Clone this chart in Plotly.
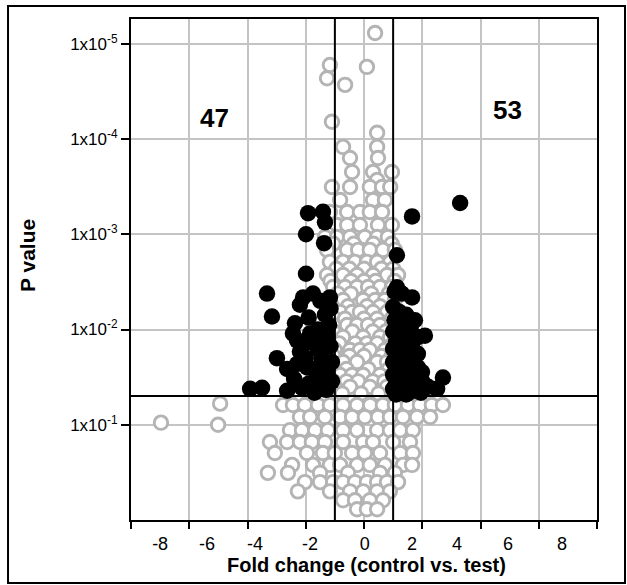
import plotly.graph_objects as go

# ---------------- data ----------------
# significant, down (47 genes)
down_fc = [-1.92, -1.41, -1.34, -1.99, -1.37, -1.99, -3.33, -3.16, -2.09, -1.75,
           -1.17, -2.37, -2.44, -2.02, -2.99, -2.64, -1.95, -3.91, -3.50, -2.64,
           -2.13, -1.68, -1.58, -1.34, -2.20, -1.50, -1.15, -1.90, -1.20, -2.30,
           -1.85, -1.25, -2.20, -1.60, -1.15, -2.00, -1.45, -1.10, -2.30, -1.75,
           -1.30, -2.40, -1.60, -1.10, -1.90, -1.30, -1.70]
down_p = [6.0e-4, 5.8e-4, 7.5e-4, 1.0e-3, 1.24e-3, 2.6e-3, 4.2e-3, 7.3e-3, 4.6e-3, 4.2e-3,
          4.6e-3, 8.6e-3, 1.1e-2, 1.4e-2, 2.0e-2, 2.6e-2, 2.5e-2, 4.2e-2, 4.1e-2, 4.4e-2,
          4.1e-2, 1.3e-2, 1.0e-2, 7.0e-3, 5.5e-3, 5.0e-3, 6.0e-3, 7.5e-3, 9.0e-3, 1.3e-2,
          1.1e-2, 1.2e-2, 1.7e-2, 1.6e-2, 1.5e-2, 2.0e-2, 2.0e-2, 2.2e-2, 2.3e-2, 2.6e-2,
          2.8e-2, 3.3e-2, 3.3e-2, 3.5e-2, 3.7e-2, 4.3e-2, 4.6e-2]

# significant, up (53 genes)
up_fc = [3.30, 1.65, 1.13, 1.13, 1.65, 1.00, 1.75, 2.09, 1.85, 2.71,
         2.51, 1.99, 1.41, 1.85, 1.30, 1.05, 1.20, 1.45, 1.05, 1.30,
         1.60, 1.00, 1.20, 1.50, 1.10, 1.35, 1.65, 1.00, 1.25, 1.55,
         1.10, 1.70, 1.00, 1.25, 1.55, 1.85, 1.10, 1.40, 1.75, 1.00,
         1.25, 1.55, 2.00, 1.10, 1.40, 1.75, 2.20, 1.00, 1.25, 1.60,
         1.95, 1.10, 1.45]
up_p = [4.7e-4, 6.5e-4, 1.66e-3, 3.6e-3, 4.6e-3, 5.8e-3, 8.0e-3, 1.16e-2, 1.2e-2, 3.2e-2,
        4.2e-2, 2.8e-2, 2.1e-2, 1.8e-2, 4.2e-3, 4.0e-3, 6.5e-3, 7.0e-3, 8.0e-3, 9.0e-3,
        9.5e-3, 1.05e-2, 1.1e-2, 1.2e-2, 1.35e-2, 1.45e-2, 1.5e-2, 1.6e-2, 1.7e-2, 1.75e-2,
        1.9e-2, 2.1e-2, 2.2e-2, 2.3e-2, 2.4e-2, 2.5e-2, 2.6e-2, 2.7e-2, 2.9e-2, 3.0e-2,
        3.2e-2, 3.3e-2, 3.5e-2, 3.6e-2, 3.8e-2, 3.9e-2, 4.0e-2, 4.2e-2, 4.4e-2, 4.5e-2,
        4.6e-2, 4.8e-2, 4.8e-2]

# not significant: p value of each row and the fold changes on that row
ns_rows_p = [7.7e-6, 1.67e-5, 1.75e-5, 2.3e-5, 2.7e-5, 6.6e-5, 8.6e-5,
             1.21e-4, 1.58e-4, 2.22e-4, 2.69e-4, 3.19e-4, 4.37e-4, 5.83e-4, 8.0e-4,
             1.07e-3, 1.26e-3, 1.46e-3, 1.95e-3, 2.3e-3, 2.68e-3, 3.1e-3, 3.58e-3,
             4.2e-3, 4.9e-3, 5.7e-3, 6.55e-3, 7.7e-3, 8.97e-3, 1.05e-2, 1.2e-2,
             1.4e-2, 1.64e-2, 1.9e-2, 2.19e-2, 2.6e-2, 3.0e-2, 3.5e-2, 4.0e-2, 4.7e-2,
             6.0e-2, 6.2e-2, 8.3e-2, 9.5e-2, 0.10, 0.114, 0.152, 0.198, 0.264, 0.32,
             0.40, 0.50, 0.62, 0.77]
ns_rows_fc = [
    [0.38], [-1.17], [0.10], [-1.27], [-0.65], [-1.10], [0.45],
    [-0.72, 0.45],
    [-0.48, 0.48],
    [-0.41, 0.31, 0.96],
    [0.45],
    [-1.10, -0.48, 0.20, 0.62, 0.90],
    [-0.82, 0.31, 0.72],
    [-1.17, -0.58, -0.14, 0.20, 0.62],
    [-0.93, -0.58, -0.14, 0.48, 0.96],
    [-1.34, -0.93, -0.48, 0.03, 0.45, 0.82],
    [-1.05, -0.35, 0.32, 0.95],
    [-1.27, -0.58, -0.20, 0.20, 0.65, 1.06],
    [-1.17, -0.72, -0.31, 0.10, 0.45, 0.90],
    [-0.95, -0.50, 0.00, 0.60, 1.00],
    [-1.27, -0.72, -0.24, 0.31, 0.79, 1.17],
    [-1.15, -0.45, 0.00, 0.40, 1.05],
    [-1.06, -0.65, -0.24, 0.14, 0.55, 0.96],
    [-0.90, -0.45, 0.25, 0.85],
    [-1.24, -0.72, -0.03, 0.38, 0.72, 1.06],
    [-1.10, -0.55, 0.10, 0.55, 1.00],
    [-0.82, -0.41, -0.14, 0.31, 0.79],
    [-1.00, -0.65, 0.00, 0.45, 0.95],
    [-1.06, -0.58, -0.24, 0.14, 0.55, 0.96],
    [-1.05, -0.40, 0.30, 0.75],
    [-0.72, -0.03, 0.55, 0.90],
    [-0.85, -0.30, 0.10, 0.45, 1.00],
    [-1.00, -0.48, -0.14, 0.20, 0.72],
    [-1.05, -0.50, 0.00, 0.60, 0.95],
    [-0.72, -0.24, 0.45, 0.79],
    [-1.10, -0.60, 0.15, 0.85],
    [-0.82, -0.41, -0.03, 0.55, 0.96],
    [-1.05, -0.60, -0.20, 0.30, 0.70],
    [-1.00, -0.48, 0.20, 0.79],
    [-0.75, -0.10, 0.50, 1.00],
    [-4.94],
    [-2.78, -2.44, -2.03, -1.58, -1.17, -0.72, -0.24, 0.21, 0.65, 1.06, 1.51, 1.92, 2.33, 2.71],
    [-2.20, -1.85, -1.34, -0.82, -0.41, 0.03, 0.48, 0.89, 1.34, 1.82, 2.27],
    [-6.97],
    [-5.01],
    [-2.54, -2.13, -1.68, -1.24, -0.72, -0.24, 0.45, 0.89, 1.24, 1.68],
    [-3.23, -2.64, -2.20, -1.79, -1.34, -0.72, -0.03, 0.31, 1.00, 1.58],
    [-3.06, -1.96, -1.41, -1.00, -0.41, 0.03, 0.55, 1.24, 1.68],
    [-2.47, -1.75, -1.17, -0.82, -0.24, 0.20, 0.72, 1.34, 1.65],
    [-3.30, -2.61, -1.51, -0.55, 0.55, 1.06],
    [-2.03, -1.51, -1.06, -0.72, -0.31, 0.10, 0.45, 0.79, 1.17],
    [-2.27, -1.17, -0.48, -0.03, 0.45, 0.89],
    [-0.72, -0.31, 0.20, 0.65],
    [-0.24, 0.10, 0.45],
]

count_down = "47"
count_up = "53"
fc_threshold = 1.0
p_threshold = 0.05

x_range = [-8, 8]
x_grid_vals = [-8, -6, -4, -2, 0, 2, 4, 6, 8]
x_label_pos = [-7.0, -5.39, -3.74, -1.85, 0.03, 1.65, 3.19, 4.94, 6.8]
x_label_text = ["-8", "-6", "-4", "-2", "0", "2", "4", "6", "8"]
y_range_log = [0, -5.26]
y_tick_vals = [1e-5, 1e-4, 1e-3, 1e-2, 1e-1]
y_tick_text = ["1x10<sup>-5</sup>", "1x10<sup>-4</sup>", "1x10<sup>-3</sup>",
               "1x10<sup>-2</sup>", "1x10<sup>-1</sup>"]

ns_fc = [fc for row in ns_rows_fc for fc in row]
ns_p = [p for p, row in zip(ns_rows_p, ns_rows_fc) for _ in row]

FONT = "Arial, 'Liberation Sans', sans-serif"

fig = go.Figure()
fig.add_trace(go.Scatter(
    x=ns_fc, y=ns_p, mode="markers", xaxis="x", yaxis="y",
    marker=dict(symbol="circle", size=13.5, color="white",
                line=dict(color="#b4b4b4", width=2.9)),
    showlegend=False, hoverinfo="skip"))
fig.add_trace(go.Scatter(
    x=down_fc + up_fc, y=down_p + up_p, mode="markers", xaxis="x", yaxis="y",
    marker=dict(symbol="circle", size=16.5, color="black", line=dict(width=0)),
    showlegend=False, hoverinfo="skip"))
# threshold lines
for xv in (-fc_threshold, fc_threshold):
    fig.add_trace(go.Scatter(
        x=[xv, xv], y=[10 ** y_range_log[0], 10 ** y_range_log[1]], mode="lines",
        xaxis="x", yaxis="y", line=dict(color="black", width=2),
        showlegend=False, hoverinfo="skip"))
fig.add_trace(go.Scatter(
    x=x_range, y=[p_threshold, p_threshold], mode="lines", xaxis="x2", yaxis="y",
    line=dict(color="black", width=2), showlegend=False, hoverinfo="skip"))

fig.update_layout(
    width=627, height=585,
    margin=dict(l=131, r=30, t=19, b=65),
    paper_bgcolor="white", plot_bgcolor="white",
    font=dict(family=FONT, color="black"),
    xaxis=dict(range=x_range, tickvals=x_grid_vals, showticklabels=False,
               ticks="outside", ticklen=7, tickwidth=1.5, tickcolor="black",
               showgrid=True, gridcolor="#c4c4c4", gridwidth=2,
               showline=True, linecolor="black", linewidth=2, mirror=True,
               zeroline=False),
    xaxis2=dict(range=x_range, overlaying="x", anchor="y", side="bottom",
                tickvals=x_label_pos, ticktext=x_label_text,
                ticks="outside", ticklen=7, tickcolor="rgba(0,0,0,0)",
                tickfont=dict(size=18, family=FONT, color="black"),
                showgrid=False, showline=False, zeroline=False),
    yaxis=dict(type="log", range=y_range_log, tickvals=y_tick_vals, ticktext=y_tick_text,
               ticks="outside", ticklen=8, tickwidth=1.5, tickcolor="black",
               tickfont=dict(size=17, family=FONT, color="black"),
               showgrid=True, gridcolor="#c4c4c4", gridwidth=2,
               showline=True, linecolor="black", linewidth=2, mirror=True,
               zeroline=False),
    shapes=[dict(type="rect", xref="paper", yref="paper",
                 x0=-0.2639, x1=1.0601, y0=-0.1257, y1=1.0259,
                 line=dict(color="black", width=2), fillcolor="rgba(0,0,0,0)")],
    annotations=[
        dict(text="<b>P value</b>", xref="paper", yref="paper", x=-0.221, y=0.527,
             textangle=-90, showarrow=False, font=dict(size=21, family=FONT),
             xanchor="center", yanchor="middle"),
        dict(text="<b>Fold change (control vs. test)</b>", xref="paper", yref="paper",
             x=0.506, y=-0.0898, showarrow=False, font=dict(size=20, family=FONT),
             xanchor="center", yanchor="middle"),
        dict(text="<b>" + count_down + "</b>", xref="paper", yref="paper", x=0.180, y=0.802,
             showarrow=False, font=dict(size=26, family=FONT),
             xanchor="center", yanchor="middle"),
        dict(text="<b>" + count_up + "</b>", xref="paper", yref="paper", x=0.809, y=0.818,
             showarrow=False, font=dict(size=26, family=FONT),
             xanchor="center", yanchor="middle"),
    ],
)

fig.write_html("out.html")
